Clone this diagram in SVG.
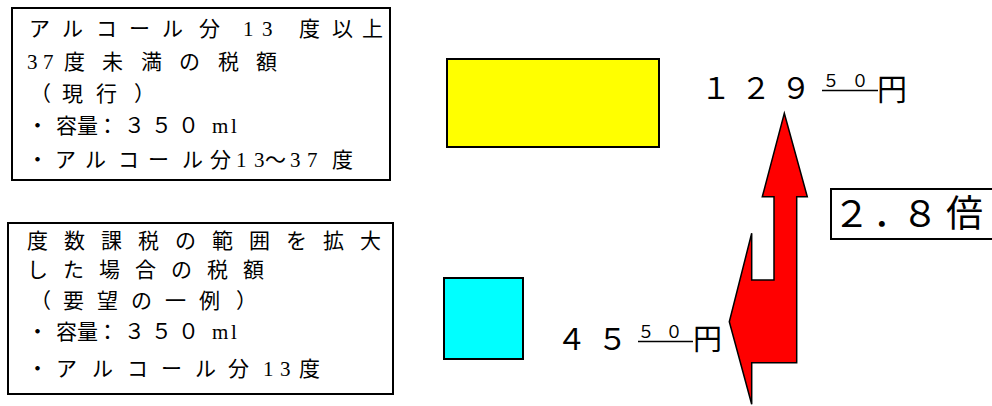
<svg xmlns="http://www.w3.org/2000/svg" width="992" height="406" viewBox="0 0 992 406">
<style>
.t{font-family:"Liberation Serif","Noto Sans CJK JP",serif;font-size:21px;fill:#000}
.frame{fill:#fff;stroke:#000;stroke-width:2}
.big{font-family:"Liberation Serif","Noto Sans CJK JP",serif;fill:#000}
.rule{stroke:#000;stroke-width:1.3}
</style>
<rect width="992" height="406" fill="#fff"/>
<g id="box-current">
<rect class="frame" x="12" y="8" width="378" height="172"/>
<text class="t" y="36" x="29 62 96 129 162 199 243 262 299 332 362">アルコール分13度以上</text>
<text class="t" y="69" x="27 43 64 102 141 179 218 256">37度未満の税額</text>
<text class="t" y="101" x="30 62 96 134">（現行）</text>
<text class="t" y="133" x="27 56 77 97 124 151 178 212 231">・容量：３５０ml</text>
<text class="t" y="167" x="27 55 85 118 148 182 210 236 254 265 290 307 332">・アルコール分13～37度</text>
</g>
<g id="box-request">
<rect class="frame" x="8" y="223" width="385" height="171"/>
<text class="t" y="248" x="27 64 101 138 175 212 249 286 323 360">度数課税の範囲を拡大</text>
<text class="t" y="277" x="27 63 99 135 171 207 243">した場合の税額</text>
<text class="t" y="308" x="30 63 97 131 165 199 236">（要望の一例）</text>
<text class="t" y="339" x="27 56 77 97 124 151 178 212 231">・容量：３５０ml</text>
<text class="t" y="376" x="27 56 92 127 161 195 228 263 280 299">・アルコール分13度</text>
</g>
<g id="bar-current">
<rect x="447" y="59" width="212" height="88" fill="#ffff00" stroke="#000" stroke-width="2"/>
</g>
<g id="bar-request">
<rect x="444" y="278" width="79" height="81" fill="#00ffff" stroke="#000" stroke-width="2"/>
</g>
<g id="label-current">
<text class="big" font-size="30" y="99" x="701 741 781">１２９</text>
<text class="big" font-size="17" y="87" x="822.5 851.5">５０</text>
<line class="rule" x1="822" y1="90.5" x2="878" y2="90.5"/>
<text class="big" font-size="30" y="100" x="877">円</text>
</g>
<g id="label-request">
<text class="big" font-size="30" y="350" x="556.5 597.5">４５</text>
<text class="big" font-size="17" y="338" x="637.5 665.5">５０</text>
<line class="rule" x1="638" y1="341.5" x2="693" y2="341.5"/>
<text class="big" font-size="29" y="350" x="693">円</text>
</g>
<g id="ratio">
<rect class="frame" x="831" y="189" width="170" height="50"/>
<text class="big" font-size="37" y="227" x="833 873 901.5 946">２．８倍</text>
</g>
<g id="connectors">
<polygon points="784.3,113.3 807.3,196.7 796.7,196.7 796.7,362.7 751.7,362.7 751.7,404.3 729.3,321.7 751.7,233.3 751.7,280 774,280 774,196.7 762.3,196.7" fill="#ff0000" stroke="#000" stroke-width="1.5" stroke-linejoin="miter"/>
</g>
</svg>
